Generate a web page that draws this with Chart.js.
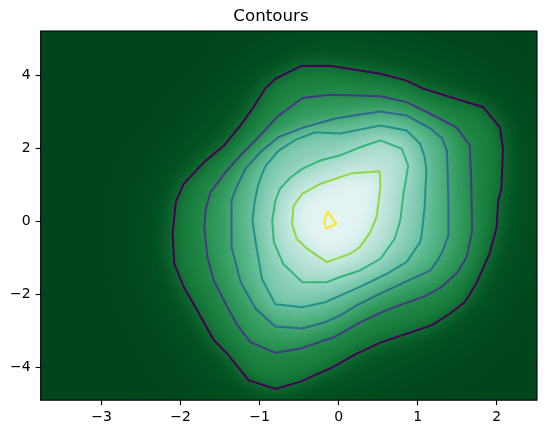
<!DOCTYPE html>
<html>
<head>
<meta charset="utf-8">
<script src="https://cdn.jsdelivr.net/npm/chart.js@4"></script>
<style>
  body { margin: 0; background: #fff; }
  #wrap { width: 549px; height: 433px; }
</style>
</head>
<body>
<div id="wrap"><canvas id="canvas" width="549" height="433"></canvas></div>
<script>
// contour lines, outermost level first (data units)
var c1x = [-0.48, -0.11, 0.53, 0.86, 1.07, 1.83, 2.04, 2.08, 2.06, 2.02, 2.00, 1.91, 1.74, 1.60, 1.41, 1.18, 0.53, 0.23, -0.06, -0.48, -0.80, -1.14, -1.41, -1.58, -1.79, -1.96, -2.08, -2.10, -2.06, -1.96, -1.70, -1.45, -1.24, -1.09, -0.93, -0.80];
var c1y = [4.26, 4.27, 4.05, 3.86, 3.64, 3.13, 2.58, 1.99, 0.90, 0.58, -0.16, -0.89, -1.71, -2.21, -2.53, -2.85, -3.33, -3.63, -3.99, -4.40, -4.60, -4.36, -3.63, -3.26, -2.44, -1.80, -1.16, -0.34, 0.53, 1.03, 1.63, 2.08, 2.63, 3.09, 3.64, 3.91];

var c2x = [-0.46, -0.11, 0.53, 0.86, 1.16, 1.49, 1.66, 1.68, 1.69, 1.62, 1.51, 1.31, 1.09, 0.80, 0.59, 0.27, -0.06, -0.48, -0.80, -1.12, -1.28, -1.41, -1.58, -1.66, -1.70, -1.68, -1.62, -1.43, -1.24, -1.03, -0.78];
var c2y = [3.38, 3.47, 3.43, 3.27, 2.95, 2.58, 2.08, 0.90, -0.25, -0.98, -1.39, -1.79, -2.06, -2.28, -2.45, -2.78, -3.18, -3.49, -3.61, -3.31, -2.85, -2.35, -1.62, -0.98, -0.16, 0.35, 0.80, 1.35, 1.81, 2.27, 2.86];

var c3x = [-0.45, -0.04, 0.27, 0.53, 0.86, 1.16, 1.31, 1.37, 1.38, 1.39, 1.39, 1.32, 1.26, 1.16, 0.86, 0.56, 0.23, 0.02, -0.17, -0.46, -0.80, -1.05, -1.24, -1.35, -1.36, -1.35, -1.30, -1.18, -0.99, -0.76];
var c3y = [2.57, 2.82, 2.93, 3.01, 2.90, 2.55, 2.27, 1.94, 1.39, 0.35, -0.39, -0.80, -1.05, -1.35, -1.65, -1.95, -2.31, -2.58, -2.77, -2.94, -2.89, -2.40, -1.67, -0.75, 0.02, 0.57, 0.89, 1.44, 1.90, 2.31];

var c4x = [-0.54, -0.30, 0.02, 0.53, 0.86, 1.03, 1.09, 1.11, 1.09, 1.07, 1.05, 1.03, 0.86, 0.61, 0.31, 0.02, -0.17, -0.46, -0.80, -0.97, -1.05, -1.09, -1.06, -1.01, -0.93, -0.76];
var c4y = [2.24, 2.44, 2.41, 2.63, 2.49, 2.13, 1.76, 1.39, 0.43, 0.02, -0.39, -0.58, -1.12, -1.44, -1.76, -2.04, -2.22, -2.36, -2.28, -1.58, -0.57, 0.02, 0.57, 1.06, 1.50, 1.94];

var c5x = [-0.45, -0.23, 0.02, 0.27, 0.53, 0.80, 0.88, 0.85, 0.82, 0.78, 0.71, 0.53, 0.27, 0.02, -0.15, -0.46, -0.70, -0.82, -0.84, -0.80, -0.74, -0.61];
var c5y = [1.45, 1.67, 1.81, 2.03, 2.22, 1.99, 1.53, 1.12, 0.75, 0.02, -0.48, -1.03, -1.35, -1.53, -1.67, -1.67, -1.17, -0.57, 0.02, 0.57, 0.90, 1.20];

var c6x = [-0.46, -0.23, 0.17, 0.52, 0.53, 0.48, 0.40, 0.27, 0.15, -0.15, -0.40, -0.53, -0.59, -0.57];
var c6y = [0.75, 1.03, 1.32, 1.37, 0.94, 0.11, -0.30, -0.71, -0.89, -1.12, -0.75, -0.48, -0.07, 0.43];

var c7x = [-0.14, -0.03, -0.16, -0.18];
var c7y = [0.27, -0.07, -0.20, 0.02];

var levelsX = [c1x, c2x, c3x, c4x, c5x, c6x, c7x];
var levelsY = [c1y, c2y, c3y, c4y, c5y, c6y, c7y];

var xTicks = [-3, -2, -1, 0, 1, 2];
var yTicks = [-4, -2, 0, 2, 4];

// viridis colours of the 7 levels
var lineColors = ['#440154', '#443983', '#31688e', '#21918c', '#35b779', '#90d743', '#fde725'];
// BuGn_r shading, one per region inside a level
var outerColor = '#00461c';
var glowColor = '#0b6e30';
var fillColors = ['#1a7f3f', '#329b5d', '#56b68a', '#86cdb6', '#b6e1d6', '#e1f3f3', '#f5fbfc'];

function minusSign(v) {
  return String(v).replace('-', '\u2212');
}

function closedPoints(xs, ys) {
  var pts = xs.map(function (x, i) { return { x: x, y: ys[i] }; });
  pts.push({ x: xs[0], y: ys[0] });
  return pts;
}

var datasets = levelsX.map(function (xs, i) {
  return {
    data: closedPoints(xs, levelsY[i]),
    showLine: true,
    borderColor: lineColors[i],
    borderWidth: 2,
    pointRadius: 0,
    fill: false,
    tension: 0
  };
});

function tracePath(chart, i) {
  var ctx = chart.ctx, sx = chart.scales.x, sy = chart.scales.y;
  var xs = levelsX[i], ys = levelsY[i];
  ctx.beginPath();
  xs.forEach(function (x, j) {
    var px = sx.getPixelForValue(x), py = sy.getPixelForValue(ys[j]);
    if (j === 0) ctx.moveTo(px, py); else ctx.lineTo(px, py);
  });
  ctx.closePath();
}

// smooth density shading built from the contour polygons
var densityBackground = {
  id: 'densityBackground',
  beforeDatasetsDraw: function (chart) {
    var ctx = chart.ctx, a = chart.chartArea;
    ctx.save();
    ctx.beginPath();
    ctx.rect(a.left, a.top, a.right - a.left, a.bottom - a.top);
    ctx.clip();
    ctx.fillStyle = outerColor;
    ctx.fillRect(a.left, a.top, a.right - a.left, a.bottom - a.top);
    ctx.filter = 'blur(40px)';
    ctx.fillStyle = glowColor;
    tracePath(chart, 0);
    ctx.fill();
    for (var i = 0; i < fillColors.length; i++) {
      ctx.filter = 'blur(9px)';
      ctx.fillStyle = fillColors[i];
      tracePath(chart, i);
      ctx.fill();
    }
    ctx.restore();
  }
};

// black box around the plot like matplotlib's spines
var frame = {
  id: 'frame',
  afterDatasetsDraw: function (chart) {
    var ctx = chart.ctx, a = chart.chartArea;
    ctx.save();
    ctx.strokeStyle = '#000';
    ctx.lineWidth = 1.1;
    ctx.strokeRect(a.left, a.top, a.right - a.left, a.bottom - a.top);
    ctx.restore();
  }
};

var tickFont = { family: 'DejaVu Sans', size: 14 };

new Chart(document.getElementById('canvas'), {
  type: 'scatter',
  data: { datasets: datasets },
  plugins: [densityBackground, frame],
  options: {
    responsive: false,
    animation: false,
    layout: { padding: { left: 5, right: 12, top: 0, bottom: 3 } },
    plugins: {
      legend: { display: false },
      tooltip: { enabled: false },
      title: {
        display: true,
        text: 'Contours',
        color: '#000',
        font: { family: 'DejaVu Sans', size: 16.7, weight: 'normal' },
        padding: { top: 7, bottom: 4 }
      }
    },
    scales: {
      x: {
        type: 'linear',
        min: -3.77,
        max: 2.51,
        afterBuildTicks: function (scale) {
          scale.ticks = xTicks.map(function (v) { return { value: v }; });
        },
        ticks: { color: '#000', font: tickFont, padding: 4, maxRotation: 0, callback: minusSign },
        grid: { drawOnChartArea: false, tickLength: 5, tickColor: '#000', tickWidth: 1.1 },
        border: { display: false }
      },
      y: {
        type: 'linear',
        min: -4.91,
        max: 5.22,
        afterBuildTicks: function (scale) {
          scale.ticks = yTicks.map(function (v) { return { value: v }; });
        },
        ticks: { color: '#000', font: tickFont, padding: 5, callback: minusSign },
        grid: { drawOnChartArea: false, tickLength: 5, tickColor: '#000', tickWidth: 1.1 },
        border: { display: false }
      }
    }
  }
});
</script>
</body>
</html>
